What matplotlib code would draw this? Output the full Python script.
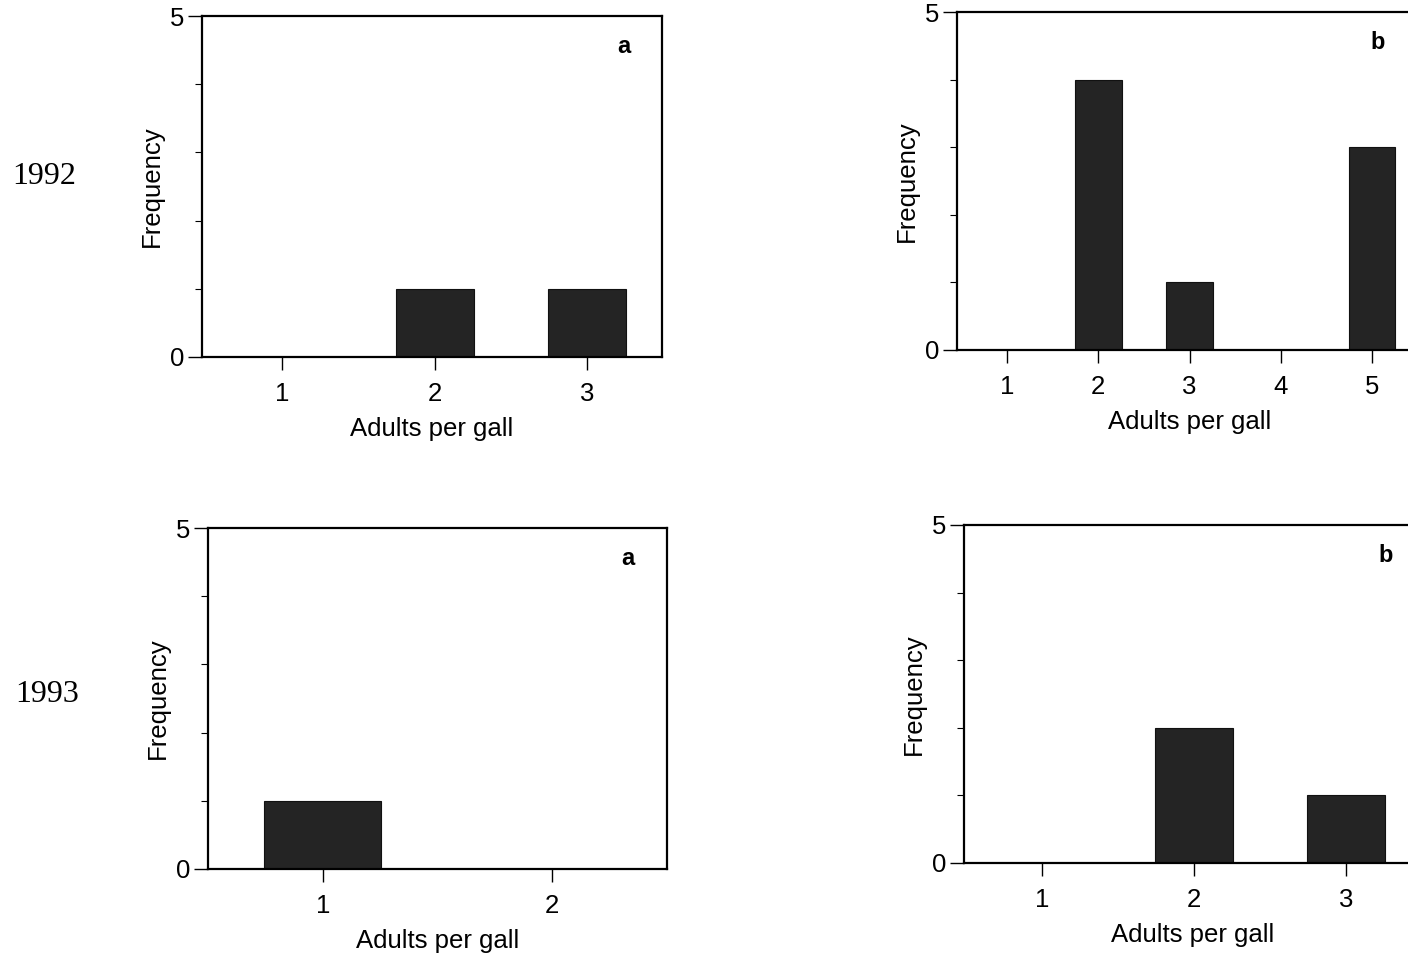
import matplotlib
matplotlib.use("Agg")
import matplotlib.pyplot as plt
from matplotlib.ticker import MultipleLocator

# Frequency of adults per gall, two sites (a, b) in two years
adults_92a = [1, 2, 3]
freq_92a = [0, 1, 1]
adults_92b = [1, 2, 3, 4, 5]
freq_92b = [0, 4, 1, 0, 3]
adults_93a = [1, 2]
freq_93a = [1, 0]
adults_93b = [1, 2, 3]
freq_93b = [0, 2, 1]

W, H = 1408, 960
plt.rcParams['font.family'] = ['Liberation Sans', 'DejaVu Sans']

fig = plt.figure(figsize=(W / 100, H / 100), dpi=100)


def px_axes(x0, y0, x1, y1):
    return fig.add_axes([x0 / W, 1 - y1 / H, (x1 - x0) / W, (y1 - y0) / H])


def draw_panel(ax, x, y, xlim, letter, letter_x):
    ax.bar(x, y, width=0.51, color='#242424', edgecolor='#111111', linewidth=0.8)
    ax.set_xlim(*xlim)
    ax.set_ylim(0, 5)
    ax.set_xticks(x)
    ax.set_yticks([0, 5])
    ax.yaxis.set_minor_locator(MultipleLocator(1))
    ax.tick_params(axis='x', length=9, width=1.0, pad=9, labelsize=18.5)
    ax.tick_params(axis='y', which='major', length=10, width=1.0, pad=3, labelsize=18.5)
    ax.tick_params(axis='y', which='minor', length=5, width=0.8)
    for s in ax.spines.values():
        s.set_linewidth(1.6)
    ax.set_xlabel('Adults per gall', fontsize=18.5, labelpad=8)
    ax.set_ylabel('Frequency', fontsize=18.5, labelpad=4)
    ax.text(letter_x, 4.55, letter, fontsize=17, fontweight='bold', ha='center', va='center')


ax1 = px_axes(202, 16, 662, 357)
draw_panel(ax1, adults_92a, freq_92a, (0.475, 3.49), 'a', 3.24)

ax2 = px_axes(957, 12, 1422, 350)
draw_panel(ax2, adults_92b, freq_92b, (0.45, 5.55), 'b', 5.06)

ax3 = px_axes(208, 528, 667, 869)
draw_panel(ax3, adults_93a, freq_93a, (0.5, 2.5), 'a', 2.33)

ax4 = px_axes(964, 525, 1422, 863)
draw_panel(ax4, adults_93b, freq_93b, (0.485, 3.5), 'b', 3.26)

# Year labels on the left
fig.text(44 / W, 1 - 177 / H, '1992', fontsize=23, family='Liberation Serif', ha='center', va='center')
fig.text(47 / W, 1 - 694 / H, '1993', fontsize=23, family='Liberation Serif', ha='center', va='center')

fig.savefig('out.png', dpi=100)
